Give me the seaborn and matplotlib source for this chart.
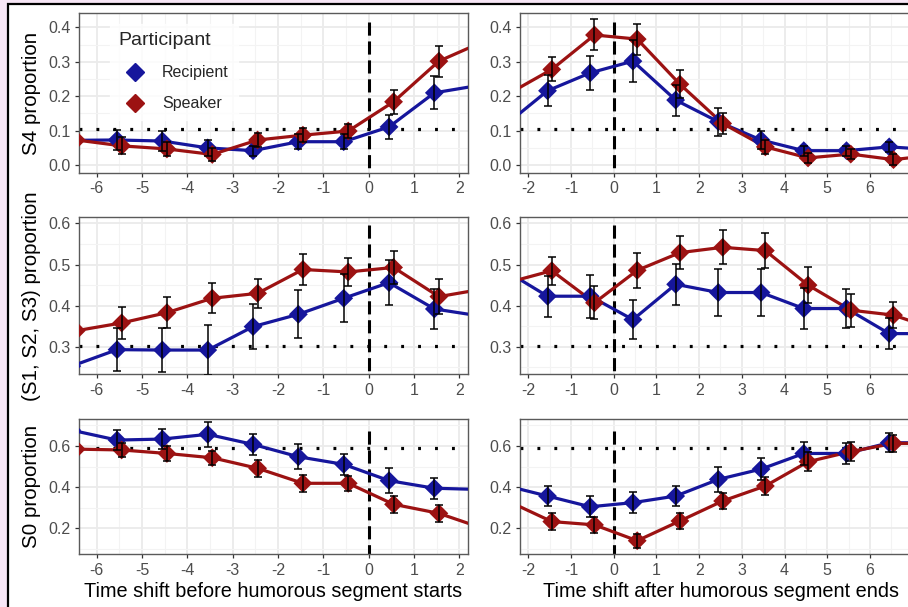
import numpy as np
import pandas as pd
import matplotlib
matplotlib.use("Agg")
import matplotlib.pyplot as plt
from matplotlib.patches import Rectangle
from matplotlib.lines import Line2D
from matplotlib.ticker import MultipleLocator, FormatStrFormatter
from matplotlib.transforms import blended_transform_factory
import seaborn as sns

nan = np.nan
# ---------------- data ----------------
x_before = [-6.5, -5.5, -4.5, -3.5, -2.5, -1.5, -0.5, 0.5, 1.5, 2.5]
x_after = [-2.5, -1.5, -0.5, 0.5, 1.5, 2.5, 3.5, 4.5, 5.5, 6.5, 7.5]

s4_before_rec = [0.072, 0.073, 0.070, 0.050, 0.042, 0.068, 0.068, 0.111, 0.210, 0.232]
s4_before_spk = [0.073, 0.056, 0.047, 0.031, 0.073, 0.087, 0.099, 0.184, 0.302, 0.360]
s4_before_rec_err = [nan, 0.030, 0.028, 0.024, 0.015, 0.022, 0.022, 0.034, 0.048, nan]
s4_before_spk_err = [nan, 0.025, 0.020, 0.020, 0.020, 0.020, 0.020, 0.035, 0.045, nan]

s4_after_rec = [0.115, 0.216, 0.268, 0.302, 0.189, 0.126, 0.073, 0.042, 0.042, 0.053, 0.045]
s4_after_spk = [0.208, 0.278, 0.378, 0.366, 0.235, 0.121, 0.053, 0.021, 0.032, 0.016, 0.030]
s4_after_rec_err = [nan, 0.045, 0.050, 0.060, 0.045, 0.040, 0.025, 0.015, 0.015, 0.015, nan]
s4_after_spk_err = [nan, 0.035, 0.045, 0.045, 0.040, 0.030, 0.020, 0.015, 0.015, 0.015, nan]

s123_before_rec = [0.253, 0.293, 0.292, 0.292, 0.349, 0.379, 0.418, 0.456, 0.392, 0.375]
s123_before_spk = [0.339, 0.358, 0.383, 0.418, 0.430, 0.488, 0.482, 0.493, 0.422, 0.441]
s123_before_rec_err = [nan, 0.052, 0.053, 0.060, 0.055, 0.058, 0.058, 0.055, 0.048, nan]
s123_before_spk_err = [nan, 0.038, 0.037, 0.037, 0.036, 0.038, 0.035, 0.040, 0.043, nan]

s123_after_rec = [0.486, 0.423, 0.423, 0.366, 0.452, 0.432, 0.432, 0.393, 0.393, 0.332, 0.332]
s123_after_spk = [0.457, 0.485, 0.407, 0.486, 0.529, 0.542, 0.534, 0.450, 0.389, 0.377, 0.342]
s123_after_rec_err = [nan, 0.050, 0.052, 0.048, 0.050, 0.058, 0.057, 0.050, 0.047, 0.038, nan]
s123_after_spk_err = [nan, 0.034, 0.040, 0.042, 0.040, 0.041, 0.043, 0.044, 0.040, 0.032, nan]

s0_before_rec = [0.677, 0.629, 0.634, 0.657, 0.608, 0.548, 0.511, 0.432, 0.395, 0.389]
s0_before_spk = [0.585, 0.581, 0.564, 0.543, 0.492, 0.419, 0.419, 0.317, 0.273, 0.198]
s0_before_rec_err = [nan, 0.050, 0.050, 0.060, 0.050, 0.060, 0.050, 0.060, 0.050, nan]
s0_before_spk_err = [nan, 0.035, 0.035, 0.035, 0.040, 0.040, 0.035, 0.040, 0.040, nan]

s0_after_rec = [0.409, 0.357, 0.305, 0.325, 0.357, 0.438, 0.488, 0.564, 0.564, 0.616, 0.616]
s0_after_spk = [0.330, 0.233, 0.217, 0.140, 0.236, 0.333, 0.406, 0.524, 0.573, 0.613, 0.613]
s0_after_rec_err = [nan, 0.050, 0.050, 0.050, 0.050, 0.060, 0.055, 0.055, 0.050, 0.045, nan]
s0_after_spk_err = [nan, 0.040, 0.040, 0.035, 0.040, 0.040, 0.045, 0.045, 0.045, 0.040, nan]

baselines = [0.105, 0.303, 0.592]
row_labels = ["S4 proportion", "(S1, S2, S3) proportion", "S0 proportion"]
x_titles = ["Time shift before humorous segment starts", "Time shift after humorous segment ends"]
participants = ["Recipient", "Speaker"]

# ---------------- style ----------------
sns.set_theme(style="white")
plt.rcParams['font.family'] = ['Liberation Sans', 'DejaVu Sans']
palette = {"Recipient": "#16169c", "Speaker": "#9c1212"}
DODGE = {"Recipient": -0.05, "Speaker": 0.05}

W, H = 908, 607
fig = plt.figure(figsize=(W / 100, H / 100), dpi=100)
fig.patch.set_facecolor("#f7e6f6")
fig.patches.append(Rectangle((8 / W, -0.01), 1.1, 1.01 - 3.5 / H, transform=fig.transFigure,
                             facecolor="white", edgecolor="black", linewidth=1.6, zorder=-10))


def axrect(l, t, r, b):
    return [l / W, 1 - b / H, (r - l) / W, (b - t) / H]


rows_px = [(13.3, 172.7), (217.3, 374.3), (419.3, 554.3)]
cols_px = [(78.7, 468.3), (520.0, 921.5)]
xlims = [(-6.397, 2.199), (-2.194, 7.206)]
ylims = [(-0.022, 0.441), (0.233, 0.615), (0.074, 0.73)]
yticks = [[0.0, 0.1, 0.2, 0.3, 0.4], [0.3, 0.4, 0.5, 0.6], [0.2, 0.4, 0.6]]
yminor = [0.05, 0.05, 0.1]
xticks = [list(range(-6, 3)), list(range(-2, 7))]
vtop = [0.945, 0.95, 0.91]

panels = [
    [(s4_before_rec, s4_before_spk, s4_before_rec_err, s4_before_spk_err),
     (s4_after_rec, s4_after_spk, s4_after_rec_err, s4_after_spk_err)],
    [(s123_before_rec, s123_before_spk, s123_before_rec_err, s123_before_spk_err),
     (s123_after_rec, s123_after_spk, s123_after_rec_err, s123_after_spk_err)],
    [(s0_before_rec, s0_before_spk, s0_before_rec_err, s0_before_spk_err),
     (s0_after_rec, s0_after_spk, s0_after_rec_err, s0_after_spk_err)],
]
xbases = [x_before, x_after]

tick_color = "#4d4d4d"
for r in range(3):
    for c in range(2):
        t, b = rows_px[r]
        l, rr = cols_px[c]
        ax = fig.add_axes(axrect(l, t, rr, b))
        ax.set_facecolor("white")
        rec, spk, rec_err, spk_err = panels[r][c]
        xb = xbases[c]
        frames = []
        for p, vals, errs in [("Recipient", rec, rec_err), ("Speaker", spk, spk_err)]:
            frames.append(pd.DataFrame({"x": np.array(xb) + DODGE[p], "value": vals,
                                        "err": errs, "Participant": p}))
        df = pd.concat(frames, ignore_index=True)

        # reference lines
        ax.axhline(baselines[r], color="black", linestyle=(0, (0.9, 4.4)), linewidth=2.3,
                   dash_capstyle="butt", zorder=1)
        trans = blended_transform_factory(ax.transData, ax.transAxes)
        ax.plot([0, 0], [vtop[r], 0], transform=trans, color="black",
                linestyle=(0, (4.3, 1.9)), linewidth=2.2, zorder=1.5)

        sns.lineplot(data=df, x="x", y="value", hue="Participant", palette=palette,
                     linewidth=2.3, legend=False, ax=ax, sort=True, zorder=3)
        sns.scatterplot(data=df, x="x", y="value", hue="Participant", palette=palette,
                        marker="D", s=92, edgecolor=None, linewidth=0, legend=False,
                        ax=ax, zorder=4)
        for p in participants:
            d = df[(df.Participant == p) & df.err.notna()]
            ax.errorbar(d.x, d.value, yerr=d.err, fmt="none", ecolor="black",
                        elinewidth=1.1, capsize=2.6, capthick=1.1, zorder=5)

        ax.set_xlim(*xlims[c])
        ax.set_ylim(*ylims[r])
        ax.set_xticks(xticks[c])
        ax.set_xticklabels([str(v) for v in xticks[c]])
        ax.xaxis.set_minor_locator(MultipleLocator(0.5))
        ax.set_yticks(yticks[r])
        ax.yaxis.set_major_formatter(FormatStrFormatter("%.1f"))
        ax.yaxis.set_minor_locator(MultipleLocator(yminor[r]))
        ax.grid(which="major", color="#ebebeb", linewidth=1.3, zorder=0)
        ax.grid(which="minor", color="#f3f3f3", linewidth=0.8, zorder=0)
        ax.set_axisbelow(True)
        for s in ax.spines.values():
            s.set_color("#5a5a5a")
            s.set_linewidth(1.0)
        ax.tick_params(which="major", direction="out", length=3, width=0.9, color="#333333",
                       labelcolor=tick_color, labelsize=11.5, pad=3, bottom=True, left=True)
        ax.tick_params(which="minor", length=0)
        ax.set_xlabel("")
        ax.set_ylabel("")
        if r == 2:
            ax.set_xlabel(x_titles[c], fontsize=14.3, color="black", labelpad=3)
        if c == 0:
            ax.set_ylabel(row_labels[r], fontsize=14.8, color="black", labelpad=5)
        if r == 0 and c == 0:
            handles = [Line2D([], [], marker="D", linestyle="none", markersize=9,
                              markerfacecolor=palette[p], markeredgecolor=palette[p])
                       for p in participants]
            leg = ax.legend(handles, participants, title="Participant", loc="upper left",
                            bbox_to_anchor=(0.06, 0.985), frameon=True, fontsize=11.5,
                            title_fontsize=14, labelspacing=1.0, handletextpad=0.7,
                            borderpad=0.55, handlelength=2.0)
            leg.get_frame().set_facecolor("white")
            leg.get_frame().set_edgecolor("white")
            leg._legend_box.align = "left"

fig.savefig("out.png", dpi=100, facecolor=fig.get_facecolor())
